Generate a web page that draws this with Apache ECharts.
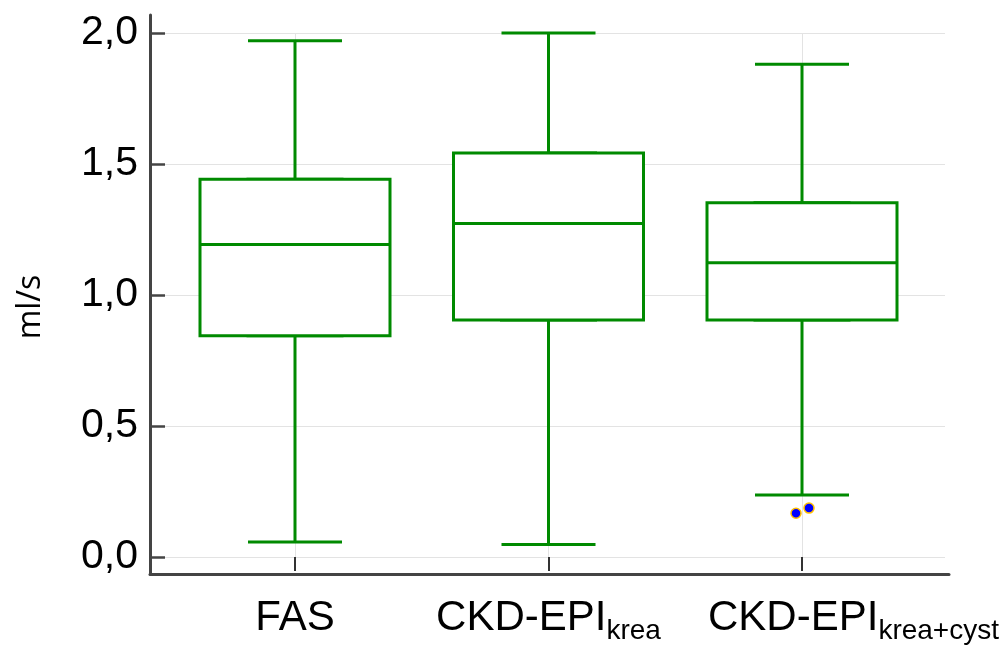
<!DOCTYPE html>
<html>
<head>
<meta charset="utf-8">
<script src="https://cdn.jsdelivr.net/npm/echarts@6/dist/echarts.min.js"></script>
<style>
html,body{margin:0;padding:0;background:#fff;}
#chart{width:1008px;height:645px;}
</style>
</head>
<body>
<div id="chart"></div>
<script>
// ---- data ----
const categories = ['FAS', 'CKD-EPI_krea', 'CKD-EPI_krea+cyst'];
const labelMain = ['FAS', 'CKD-EPI', 'CKD-EPI'];
const labelSub = ['', 'krea', 'krea+cyst'];
const mins    = [0.05, 0.04, 0.23];
const q1s     = [0.84, 0.90, 0.90];
const medians = [1.19, 1.27, 1.12];
const q3s     = [1.44, 1.54, 1.35];
const maxs    = [1.97, 2.00, 1.88];
const outlierCategory = [2, 2];
const outlierValues = [0.16, 0.18];
const yTicks = [0, 0.5, 1.0, 1.5, 2.0];
const yTitle = 'ml/s';

// ---- styling / layout ----
const GREEN = '#008a00';
const FONT = '"Liberation Sans", Arial, sans-serif';
const AXIS_COLOR = '#444';
const GRID_COLOR = '#e3e3e3';
// plot frame extends a little beyond the 0..2 data range (axis lines at y=15 and y=573, 262 px per unit)
const frameMin = -16 / 262;
const frameMax = 542 / 262;

const whiskerData = categories.map((c, i) => [mins[i], q1s[i], medians[i], q3s[i], maxs[i]]);
const boxData = categories.map((c, i) => [q1s[i], q1s[i], medians[i], q3s[i], q3s[i]]);
const jitter = [[-6, 0], [7, 0]];
const outlierData = outlierValues.map((v, i) => ({
  value: [outlierCategory[i], v],
  symbolOffset: jitter[i]
}));

const chart = echarts.init(document.getElementById('chart'), null, {renderer: 'canvas'});
const option = {
  animation: false,
  backgroundColor: '#fff',
  grid: [
    {left: 168.25, right: 79.25, top: 15, bottom: 72},  // boxes + x ticks/labels
    {left: 295, right: 206, top: 33, bottom: 88},        // vertical gridlines
    {left: 150, right: 63, top: 33, bottom: 88},         // horizontal gridlines + y labels
    {left: 150, right: 59, top: 15, bottom: 71}          // axis lines
  ],
  xAxis: [
    {
      type: 'category', gridIndex: 0, data: categories,
      axisLine: {show: false, onZero: false},
      axisTick: {show: true, inside: true, length: 14, alignWithLabel: true,
        lineStyle: {color: '#333', width: 2}},
      axisLabel: {
        margin: 26, interval: 0, verticalAlign: 'top',
        formatter: function (v, i) {
          if (!labelSub[i]) return '{m|' + labelMain[i] + '}';
          const ms = i === 2 ? 'm3' : 'm';
          return '{' + ms + '|' + labelMain[i] + '}{s|' + labelSub[i] + '}';
        },
        rich: {
          m: {fontSize: 42, fontFamily: FONT, color: '#000', verticalAlign: 'top', lineHeight: 41},
          m3: {fontSize: 42, fontFamily: FONT, color: '#000', verticalAlign: 'top', lineHeight: 41, padding: [0, 0, 0, 103]},
          s: {fontSize: 28, fontFamily: FONT, color: '#000', verticalAlign: 'top', lineHeight: 27, padding: [20, 0, 0, 0]}
        }
      },
      splitLine: {show: false}
    },
    {type: 'category', gridIndex: 0, data: categories, show: false},
    {
      type: 'value', gridIndex: 1, min: 0, max: 2, interval: 1,
      axisLine: {show: false}, axisTick: {show: false}, axisLabel: {show: false},
      splitLine: {show: true, lineStyle: {color: GRID_COLOR, width: 1}}
    },
    {type: 'value', gridIndex: 2, min: 0, max: 1, show: false},
    {
      type: 'value', gridIndex: 3, min: 0, max: 1,
      axisLine: {show: true, onZero: false, lineStyle: {color: AXIS_COLOR, width: 3}},
      axisTick: {show: false}, axisLabel: {show: false}, splitLine: {show: false}
    }
  ],
  yAxis: [
    {type: 'value', gridIndex: 0, min: frameMin, max: frameMax, show: false},
    {type: 'value', gridIndex: 1, min: 0, max: 1, show: false},
    {
      type: 'value', gridIndex: 2, min: yTicks[0], max: yTicks[yTicks.length - 1], interval: 0.5,
      name: yTitle, nameLocation: 'middle', nameGap: 103,
      nameTextStyle: {fontSize: 32, fontFamily: '"Open Sans", "Noto Sans", sans-serif', color: '#000',
        padding: [0, 24, 0, 0]},
      axisLine: {show: false},
      axisTick: {show: true, inside: true, length: 15, lineStyle: {color: '#444', width: 2.5}},
      axisLabel: {
        margin: 12, fontSize: 41, fontFamily: FONT, color: '#000',
        formatter: v => v.toFixed(1).replace('.', ',')
      },
      splitLine: {show: true, lineStyle: {color: GRID_COLOR, width: 1}}
    },
    {
      type: 'value', gridIndex: 3, min: 0, max: 1,
      axisLine: {show: true, onZero: false, lineStyle: {color: AXIS_COLOR, width: 3}},
      axisTick: {show: false}, axisLabel: {show: false}, splitLine: {show: false}
    }
  ],
  series: [
    {
      type: 'boxplot', xAxisIndex: 0, yAxisIndex: 0, z: 2,
      data: whiskerData, boxWidth: [94, 94],
      itemStyle: {color: '#fff', borderColor: GREEN, borderWidth: 3},
      emphasis: {disabled: true}
    },
    {
      type: 'boxplot', xAxisIndex: 1, yAxisIndex: 0, z: 3,
      data: boxData, boxWidth: [190, 190],
      itemStyle: {color: '#fff', borderColor: GREEN, borderWidth: 3},
      emphasis: {disabled: true}
    },
    {
      type: 'scatter', xAxisIndex: 0, yAxisIndex: 0, z: 4,
      data: outlierData, symbol: 'circle', symbolSize: 10,
      itemStyle: {color: '#0000ff', borderColor: '#ffbf00', borderWidth: 1.5, opacity: 1},
      emphasis: {disabled: true}
    }
  ]
};
chart.setOption(option);
</script>
</body>
</html>
